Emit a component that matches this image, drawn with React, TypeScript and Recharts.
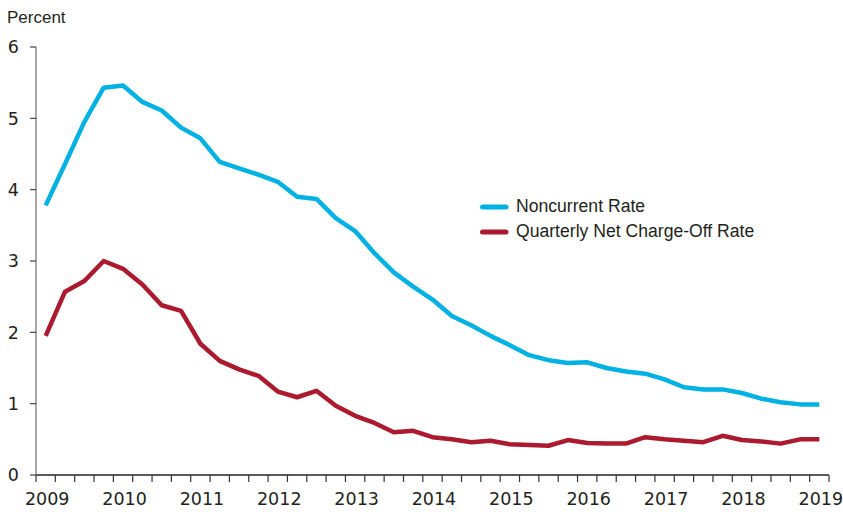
import { LineChart, Line, XAxis, YAxis, Legend } from 'recharts';

// quarterly observations, first one sits under the "2009" label
const noncurrent = [
  3.78, 4.36, 4.95, 5.43, 5.46, 5.23, 5.11, 4.87, 4.72, 4.39,
  4.30, 4.21, 4.11, 3.90, 3.87, 3.60, 3.42, 3.11, 2.84, 2.64,
  2.46, 2.23, 2.10, 1.95, 1.82, 1.68, 1.61, 1.57, 1.58, 1.50,
  1.45, 1.42, 1.34, 1.23, 1.20, 1.20, 1.15, 1.07, 1.02, 0.99,
  0.99,
];
const chargeOff = [
  1.95, 2.57, 2.72, 3.00, 2.89, 2.67, 2.38, 2.30, 1.84, 1.60,
  1.48, 1.39, 1.17, 1.09, 1.18, 0.97, 0.83, 0.73, 0.60, 0.62,
  0.53, 0.50, 0.46, 0.48, 0.43, 0.42, 0.41, 0.49, 0.45, 0.44,
  0.44, 0.53, 0.50, 0.48, 0.46, 0.55, 0.49, 0.47, 0.44, 0.50,
  0.50,
];
const years = ['2009', '2010', '2011', '2012', '2013', '2014', '2015', '2016', '2017', '2018', '2019'];
const yTicks = [0, 1, 2, 3, 4, 5, 6];

const data = noncurrent.map((v, i) => ({ idx: i, noncurrent: v, chargeOff: chargeOff[i] }));

// tick marks fall between quarters
const xTicks = Array.from({ length: data.length + 1 }, (_, i) => i - 0.5);

const W = 843;
const H = 512;
const margin = { top: 47, right: 14, bottom: 0, left: 0 };
const Y_AXIS_W = 36;
const halfStep = (W - margin.left - margin.right - Y_AXIS_W) / data.length / 2;

const BLUE = '#00b2e3';
const RED = '#ac1a2f';
const TEXT = '#231f20';

const YearTick = ({ x, y, payload }: any) => {
  const q = payload.value + 0.5;
  if (q % 4 !== 0) return null;
  return (
    <text
      x={x + halfStep + 1.5}
      y={y}
      dy="0.71em"
      textAnchor="middle"
      fill={TEXT}
      fontSize={17.5}
      fontFamily="DejaVu Sans"
    >
      {years[q / 4]}
    </text>
  );
};

const LegendBox = ({ payload }: any) => (
  <div style={{ fontFamily: '"Liberation Sans", Arial, sans-serif', fontSize: 17.6, color: TEXT }}>
    {(payload || []).map((entry: any) => (
      <div key={entry.value} style={{ display: 'flex', alignItems: 'center', height: 25 }}>
        <svg width={36} height={8} style={{ display: 'block' }}>
          <line x1={2.5} y1={4} x2={26} y2={4} stroke={entry.color} strokeWidth={5} strokeLinecap="round" />
        </svg>
        <span>{entry.value}</span>
      </div>
    ))}
  </div>
);

export default function App() {
  return (
    <div style={{ position: 'absolute', left: 0, top: 0, width: W, height: H, background: '#fff' }}>
      <div
        style={{
          position: 'absolute',
          left: 7,
          top: 8,
          fontFamily: '"Liberation Sans", Arial, sans-serif',
          fontSize: 17,
          lineHeight: '20px',
          color: TEXT,
        }}
      >
        Percent
      </div>
      <LineChart width={W} height={H} data={data} margin={margin}>
        <XAxis
          dataKey="idx"
          type="number"
          domain={[-0.5, data.length - 0.5]}
          ticks={xTicks}
          interval={0}
          height={37}
          tickSize={7}
          tickMargin={11}
          axisLine={{ stroke: '#222', strokeWidth: 1.3 }}
          tickLine={{ stroke: '#333', strokeWidth: 1.2 }}
          tick={<YearTick />}
        />
        <YAxis
          width={Y_AXIS_W}
          domain={[0, 6]}
          ticks={yTicks}
          interval={0}
          tickSize={6}
          tickMargin={11}
          axisLine={{ stroke: '#777', strokeWidth: 1.3 }}
          tickLine={{ stroke: '#444', strokeWidth: 1.2 }}
          tick={{ fill: TEXT, fontSize: 17.5, fontFamily: 'DejaVu Sans' }}
        />
        <Legend
          content={<LegendBox />}
          layout="horizontal"
          verticalAlign="middle"
          align="center"
          wrapperStyle={{ position: 'absolute', left: 480, top: 194, width: 330 }}
        />
        <Line
          dataKey="noncurrent"
          name="Noncurrent Rate"
          type="linear"
          stroke={BLUE}
          strokeWidth={4.5}
          strokeLinejoin="round"
          dot={false}
          activeDot={false}
          isAnimationActive={false}
        />
        <Line
          dataKey="chargeOff"
          name="Quarterly Net Charge-Off Rate"
          type="linear"
          stroke={RED}
          strokeWidth={4.5}
          strokeLinejoin="round"
          dot={false}
          activeDot={false}
          isAnimationActive={false}
        />
      </LineChart>
    </div>
  );
}
